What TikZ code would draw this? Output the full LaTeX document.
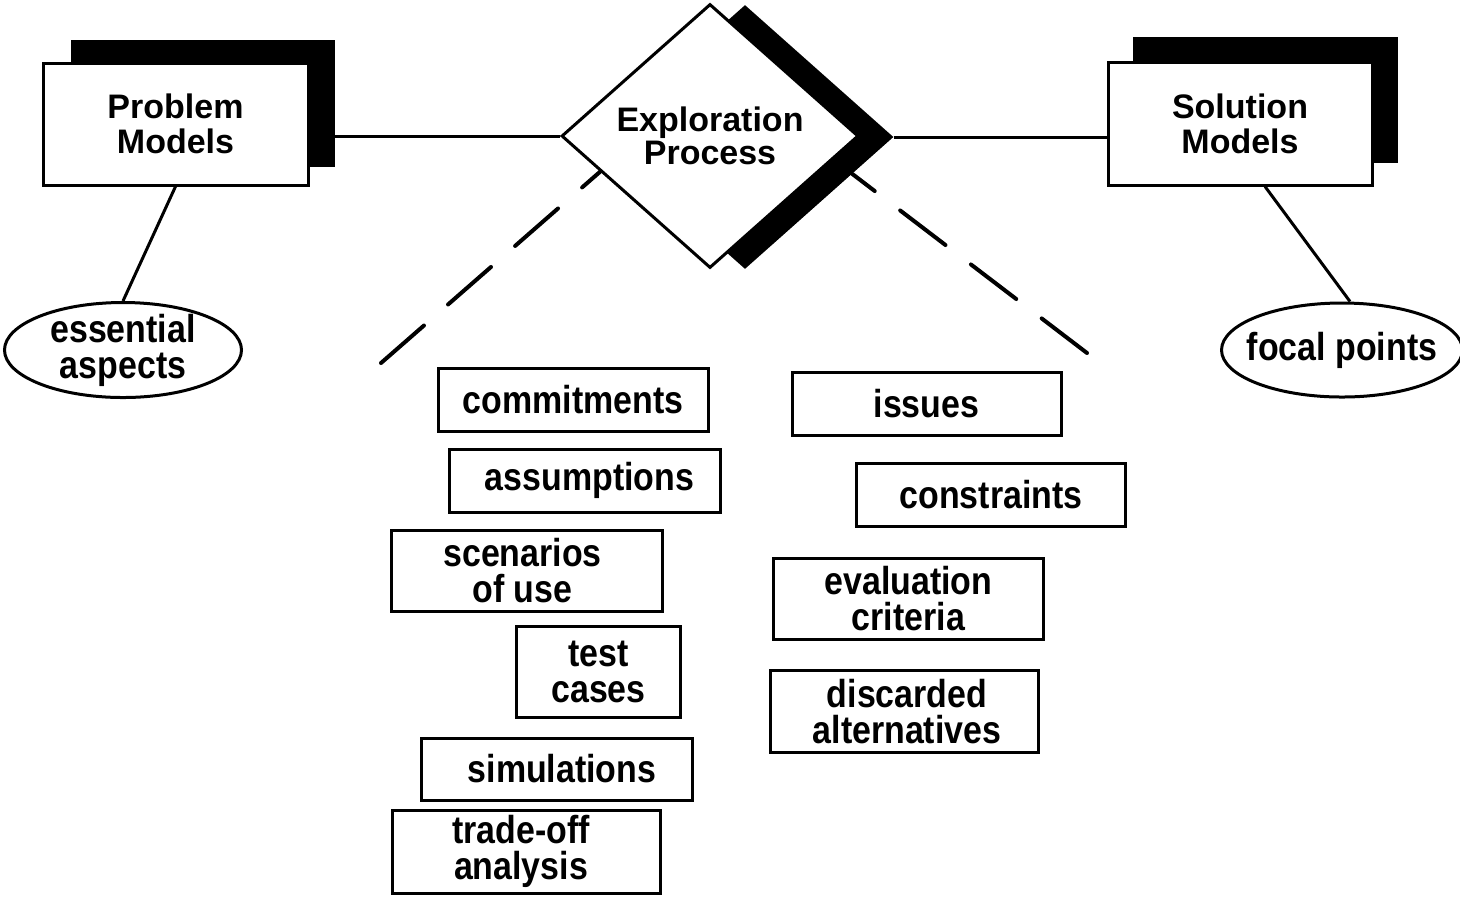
\documentclass[tikz,border=0pt]{standalone}
\usepackage{fontspec}
\newfontfamily\ttlfont{Liberation Sans}
\newfontfamily\labfont{Liberation Sans}[FakeStretch=0.87]
\usetikzlibrary{shapes.geometric,calc}
\begin{document}
\begin{tikzpicture}[x=0.5pt,y=-0.5pt,
  card/.style={draw,line width=1.5pt,fill=white,rectangle,inner sep=0pt,align=center,
    font=\labfont\bfseries\fontsize{19.5}{18}\selectfont},
  titlebox/.style={draw,line width=1.5pt,fill=white,rectangle,inner sep=0pt,align=center,
    font=\ttlfont\bfseries\fontsize{17}{17.5}\selectfont},
  shadowbox/.style={fill=black,rectangle,inner sep=0pt},
  oval/.style={draw,line width=1.5pt,fill=white,ellipse,inner sep=0pt,align=center,
    font=\labfont\bfseries\fontsize{19.5}{18}\selectfont},
  link/.style={line width=1.5pt},
  dashlink/.style={line width=2pt,line cap=round,dash pattern=on 28.5pt off 16pt}]
\path[use as bounding box,fill=white] (0,0) rectangle (1460,896);

% top-level models
\node[shadowbox,minimum width=132pt,minimum height=63.5pt] (pmsh) at (203,103.5) {};
\node[titlebox,minimum width=132.5pt,minimum height=61pt] (pm) at (175.5,124) {Problem\\Models};
\node[shadowbox,minimum width=132.5pt,minimum height=63pt] (smsh) at (1265.5,100) {};
\node[titlebox,minimum width=132pt,minimum height=61.5pt] (sm) at (1240,123.5) {Solution\\Models};

% exploration diamond
\node[diamond,fill=black,inner sep=0pt,minimum width=148.5pt,minimum height=132pt] (dsh) at (745,137) {};
\node[diamond,draw,line width=1.5pt,fill=white,inner sep=0pt,minimum width=148.5pt,minimum height=132pt,
  align=center,font=\ttlfont\bfseries\fontsize{17}{16.5}\selectfont] (dia) at (710,136) {Exploration\\Process};

% ellipses
\node[oval,minimum width=118.5pt,minimum height=47.5pt,inner ysep=-1.5pt] (ea) at (123,350) {essential\\aspects};
\node[oval,minimum width=116.5pt,minimum height=47pt,inner xsep=-5pt] (fp) at (1342,350) {focal points};

% boxes
\node[card,minimum width=135pt,minimum height=31.5pt] (com) at (573,399.5) {commitments};
\node[card,minimum width=134.5pt,minimum height=31.5pt] (iss) at (926.5,403.5) {issues};
\node[card,minimum width=135.5pt,minimum height=31.5pt] (ass) at (584.5,480.5) {\hspace*{5pt}assumptions};
\node[card,minimum width=134.5pt,minimum height=31.5pt] (con) at (991,494.5) {constraints};
\node[card,minimum width=135.5pt,minimum height=40.5pt] (sce) at (526.5,570.5) {scenarios\hspace*{4pt}\\of use\hspace*{4pt}};
\node[card,minimum width=135pt,minimum height=40.5pt] (eva) at (908.5,599) {evaluation\\criteria};
\node[card,minimum width=82pt,minimum height=45.5pt] (tes) at (598.5,671.5) {test\\cases};
\node[card,minimum width=134pt,minimum height=41pt] (dis) at (904,711.5) {\hspace*{3pt}discarded\\\hspace*{3pt}alternatives};
\node[card,minimum width=135.5pt,minimum height=31pt] (sim) at (557,769) {\hspace*{5pt}simulations};
\node[card,minimum width=134pt,minimum height=41.5pt] (tra) at (526,851.5) {trade-off\hspace*{5pt}\\analysis\hspace*{5pt}};

% connectors
\draw[link] (dia.west -| pmsh.east) -- (dia.west);
\draw[link] (dsh.east) -- (dsh.east -| sm.west);
\draw[link] (pm.south) -- (ea.north);
\draw[link] ($(sm.south)+(25,0)$) -- ($(fp.north)+(8,0)$);
\coordinate (lend) at (381,363);
\coordinate (rend) at (1087,353);
\draw[dashlink] (lend) -- (dia.198);
\draw[dashlink] (rend) -- (dsh.341);
\end{tikzpicture}
\end{document}
